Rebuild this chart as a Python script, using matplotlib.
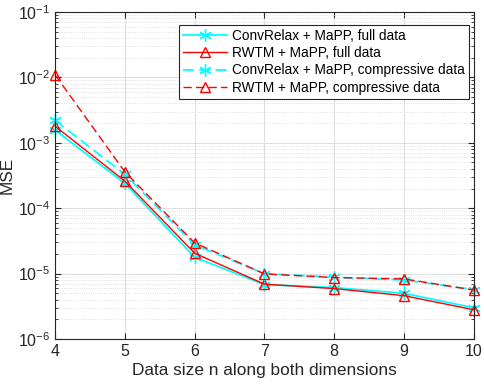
import matplotlib.pyplot as plt
import numpy as np

plt.rcParams['font.family'] = ['Liberation Sans', 'DejaVu Sans']

# data size n along both dimensions
n = [4, 5, 6, 7, 8, 9, 10]

# MSE values
conv_full = [1.57e-3, 2.4e-4, 1.78e-5, 6.8e-6, 6.1e-6, 5.0e-6, 3.0e-6]
rwtm_full = [1.8e-3, 2.6e-4, 2.05e-5, 6.9e-6, 5.9e-6, 4.6e-6, 2.8e-6]
conv_comp = [2.2e-3, 3.3e-4, 2.75e-5, 1.0e-5, 8.8e-6, 8.0e-6, 5.7e-6]
rwtm_comp = [1.1e-2, 3.6e-4, 2.95e-5, 9.9e-6, 8.7e-6, 8.3e-6, 5.6e-6]

labels = ["ConvRelax + MaPP, full data",
          "RWTM + MaPP, full data",
          "ConvRelax + MaPP, compressive data",
          "RWTM + MaPP, compressive data"]

fig = plt.figure(figsize=(4.85, 3.87), dpi=100)
ax = fig.add_axes([0.1134, 0.124, 0.8636, 0.845])

cyan = (0, 1, 1)
red = (1, 0, 0)
star = (6, 2, 0)
ax.plot(n, conv_full, '-', color=cyan, marker=star, ms=9, mew=1, lw=1.3,
        label=labels[0], clip_on=False)
ax.plot(n, rwtm_full, '-', color=red, marker='^', ms=7.5, mfc='none', lw=1,
        label=labels[1], clip_on=False)
ax.plot(n, conv_comp, '--', color=cyan, marker=star, ms=9, mew=1, lw=1.3,
        dashes=(6, 3), label=labels[2], clip_on=False)
ax.plot(n, rwtm_comp, '--', color=red, marker='^', ms=7.5, mfc='none', lw=1,
        dashes=(6, 3), label=labels[3], clip_on=False)

ax.set_yscale('log')
ax.set_xlim(4, 10)
ax.set_ylim(1e-6, 1e-1)
ax.set_xticks(n)
ax.set_yticks([1e-6, 1e-5, 1e-4, 1e-3, 1e-2, 1e-1])
ax.tick_params(axis='both', which='both', direction='in', top=True, right=True,
               labelsize=11.5, colors='#262626')
ax.tick_params(which='major', length=4)
ax.tick_params(which='minor', length=2)

ax.grid(True, which='major', color='#dedede', lw=0.8)
ax.grid(True, which='minor', axis='y', color='#d8d8d8', lw=0.6, ls=':')
ax.set_axisbelow(True)
for s in ax.spines.values():
    s.set_color('#262626')
    s.set_linewidth(0.8)

ax.set_xlabel('Data size n along both dimensions', fontsize=12.4, color='#262626', labelpad=3)
ax.set_ylabel('MSE', fontsize=12.4, color='#262626', labelpad=2)

leg = ax.legend(loc='upper right', bbox_to_anchor=(0.995, 0.97), fontsize=9.8,
                fancybox=False, framealpha=1, edgecolor='#262626',
                handlelength=3.2, handletextpad=0.4, borderpad=0.3, labelspacing=0.25,
                borderaxespad=0.2)
leg.get_frame().set_linewidth(0.8)

fig.savefig('out.png', dpi=100)
